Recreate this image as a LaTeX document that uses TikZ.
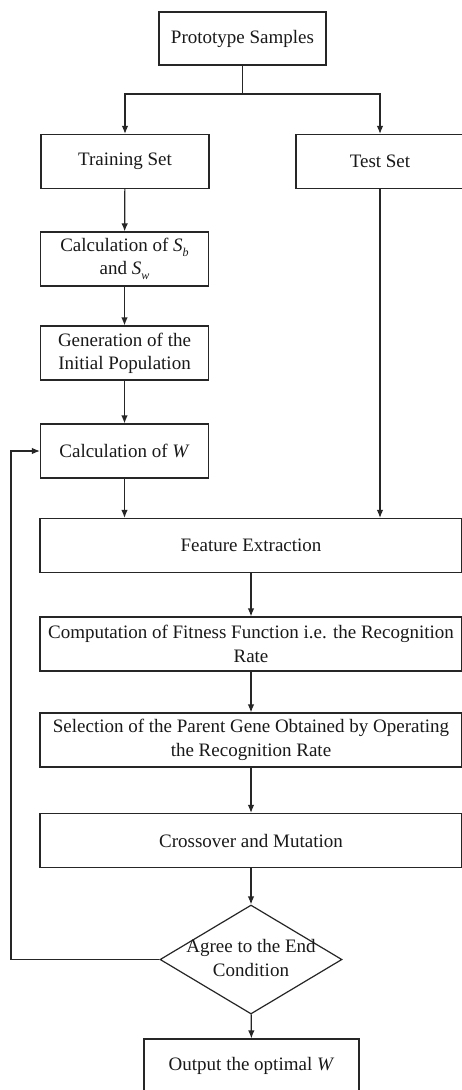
\documentclass[tikz,border=0pt]{standalone}
\usepackage{fontspec}
\setmainfont{Liberation Serif}
\usetikzlibrary{arrows.meta,shapes.geometric}
\newcommand\itsub[2]{\textit{#1}\raisebox{-0.28em}{\fontsize{12}{12}\selectfont\textit{#2}}}
\begin{document}
\begin{tikzpicture}[x=1pt,y=-1pt,
  every node/.style={font=\fontsize{19}{23.3}\selectfont, text=black!90},
  box/.style={draw=black!85, line width=1.2pt, rectangle, inner sep=0pt, align=center},
  smallbox/.style={box, minimum width=168pt, minimum height=54pt},
  widebox/.style={box, minimum width=422pt, minimum height=54pt},
  cond/.style={draw=black!85, line width=1.2pt, diamond, inner sep=0pt, minimum width=182pt, minimum height=109pt},
  link/.style={draw=black!85, line width=1.2pt},
  arr/.style={link, -{Latex[length=8pt,width=6.5pt]}}]
\useasboundingbox[fill=white] (0,0) rectangle (461,1090);

\node[box, minimum width=167pt, minimum height=53pt] (proto) at (242.5,38.5) {Prototype Samples};
\node[smallbox] (train) at (125,161.5) {Training Set};
\node[smallbox] (test) at (380,161.5) {Test Set};
\node[smallbox] (sbsw) at (124.5,259) {Calculation of \itsub{S}{b}\\and \itsub{S}{w}};
\node[smallbox] (gen) at (124.5,353) {Generation of the\\Initial Population};
\node[smallbox] (calcw) at (124.5,451) {Calculation of \textit{W}};
\node[widebox] (feat) at (251,545.5) {Feature Extraction};
\node[widebox] (fit) at (251,644) {Computation of Fitness Function i.e. the Recognition\\Rate};
\node[widebox] (sel) at (251,740) {Selection of the Parent Gene Obtained by Operating\\the Recognition Rate};
\node[widebox] (cross) at (251,840.5) {Crossover and Mutation};
\node[cond] (end) at (251,959.5) {};
\node[align=center, inner sep=0pt] (endtext) at (251,958) {Agree to the End\\Condition};
\node[box, minimum width=215pt, minimum height=54pt] (out) at (251.5,1066) {Output the optimal \textit{W}};

\coordinate (split) at (242.5,94);
\coordinate (back) at (11,959.5);

\draw[link] (proto.south) -- (split);
\draw[arr] (split) -| (train.north);
\draw[arr] (split) -| (test.north);
\draw[arr] (train) -- (sbsw);
\draw[arr] (sbsw) -- (gen);
\draw[arr] (gen) -- (calcw);
\draw[arr] (calcw.south) -- (calcw.south |- feat.north);
\draw[arr] (test.south) -- (test.south |- feat.north);
\draw[arr] (feat) -- (fit);
\draw[arr] (fit) -- (sel);
\draw[arr] (sel) -- (cross);
\draw[arr] (cross) -- (end);
\draw[arr] (end) -- (out);
\draw[arr] (end.west) -- (back) |- (calcw.west);
\end{tikzpicture}
\end{document}
